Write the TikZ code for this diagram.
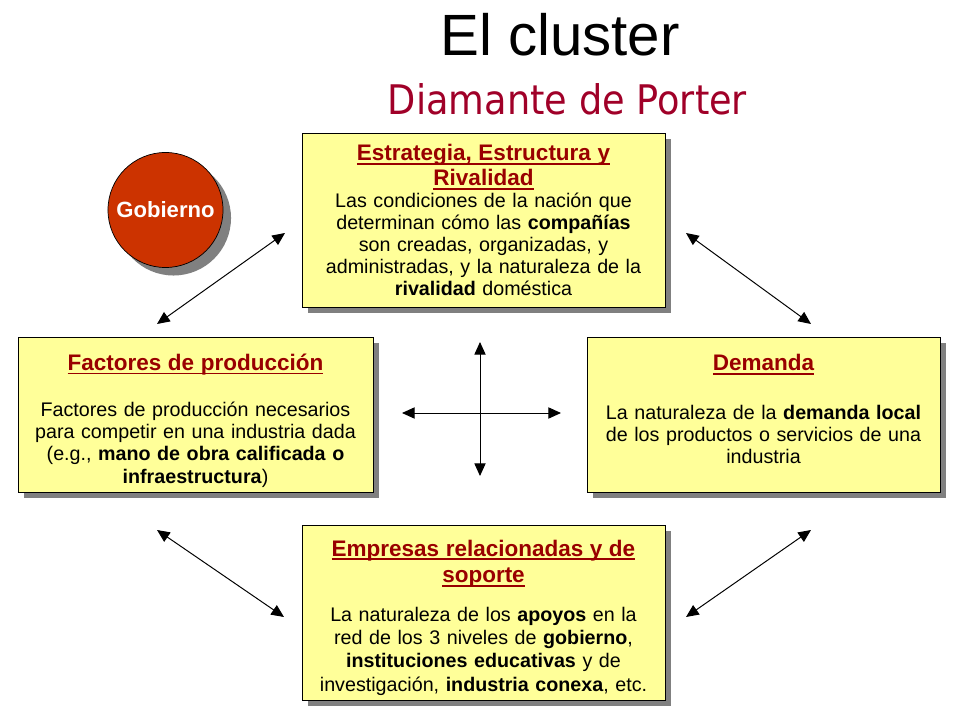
\documentclass[tikz,border=0pt]{standalone}
\usepackage{fontspec}
\usepackage{graphicx}
\setmainfont{Liberation Sans}
\newfontfamily\titlefont{DejaVu Sans}
\usetikzlibrary{arrows.meta,shadows}
\definecolor{boxyellow}{RGB}{255,255,153}
\definecolor{headred}{RGB}{153,0,0}
\definecolor{titlered}{RGB}{160,0,40}
\definecolor{govred}{RGB}{204,51,0}
\definecolor{shadowgray}{RGB}{128,128,128}
\newcommand{\hdr}[1]{\leavevmode{\color{headred}\bfseries\fontsize{16}{19}\selectfont\sbox0{#1}\hbox{\rlap{\rule[-2.9pt]{\wd0}{1.4pt}}\usebox0}}}

\tikzset{
porterbox/.style={draw=black, line width=0.6pt, fill=boxyellow, align=center,
  text width=8.4cm, inner sep=2pt, font=\fontsize{14}{15.6}\selectfont,
  drop shadow={shadow xshift=0.15cm, shadow yshift=-0.15cm, fill=shadowgray, opacity=1}},
biarrow/.style={{Triangle[length=9pt,width=8pt]}-{Triangle[length=9pt,width=8pt]}, line width=0.7pt}
}

\begin{document}
\begin{tikzpicture}[x=0.025cm, y=-0.025cm]
\useasboundingbox (0,0) rectangle (960,720);

% ================= TITLE =================
\node[anchor=base, font=\fontsize{41.4}{48}\selectfont] (title) at (560,56) {El cluster};
\node[anchor=base, text=titlered, font=\titlefont\fontsize{29}{34}\selectfont] (subtitle) at (567.5,115)
{\scalebox{0.9}[1]{Diamante de Porter}};

% ================= GOBIERNO =================
\node[circle, draw=black, line width=0.5pt, fill=govred, minimum size=2.875cm, inner sep=0pt,
text=white, font=\bfseries\fontsize{15.7}{18}\selectfont,
drop shadow={shadow xshift=0.2cm, shadow yshift=-0.2cm, fill=shadowgray, opacity=1}] (gob) at (165.5,210) {Gobierno};

% ================= BOXES =================
\node[porterbox, minimum width=9.075cm, minimum height=4.35cm] (estr) at (483.5,220)
{\hdr{Estrategia, Estructura y}\\[2pt]\hdr{Rivalidad}\\
Las condiciones de la nación que\\
determinan cómo las \textbf{compañías}\\
son creadas, organizadas, y\\
administradas, y la naturaleza de la\\
\textbf{rivalidad} doméstica};

\node[porterbox, minimum width=8.875cm, minimum height=3.875cm] (fac) at (195.5,414.5)
{\rule{0pt}{20.5pt}\hdr{Factores de producción}\\[17pt]
Factores de producción necesarios\\[0.3pt]
para competir en una industria dada\\[0.3pt]
(e.g., \textbf{mano de obra calificada o}\\[0.3pt]
\textbf{infraestructura})};

\node[porterbox, minimum width=8.825cm, minimum height=3.875cm] (dem) at (763.5,414.5)
{\hdr{Demanda}\\[19pt]
La naturaleza de la \textbf{demanda local}\\
de los productos o servicios de una\\
industria\rule[-8pt]{0pt}{8pt}};

\node[porterbox, minimum width=9.075cm, minimum height=4.375cm] (emp) at (483.5,612.5)
{\rule{0pt}{19pt}\hdr{Empresas relacionadas y de}\\[3pt]\hdr{soporte}\\[12pt]
La naturaleza de los \textbf{apoyos} en la\\[1pt]
red de los 3 niveles de \textbf{gobierno},\\[1pt]
\textbf{instituciones educativas} y de\\[1pt]
investigación, \textbf{industria conexa}, etc.};

% --- connector ends ---
\coordinate (facNE) at (157,324);
\coordinate (estrW) at (285,233);
\coordinate (estrE) at (686,233);
\coordinate (demNW) at (811,324);
\coordinate (facSE) at (157,530);
\coordinate (empW) at (284,617);
\coordinate (empE) at (686,617);
\coordinate (demSW) at (811,530);

% --- diagonal arrows ---
\draw[biarrow] (facNE) -- (estrW);
\draw[biarrow] (estrE) -- (demNW);
\draw[biarrow] (facSE) -- (empW);
\draw[biarrow] (empE) -- (demSW);

% --- center cross ---
\coordinate (crossN) at (480,342);
\coordinate (crossS) at (480,476);
\coordinate (crossW) at (402,413);
\coordinate (crossE) at (561,413);
\draw[biarrow] (crossN) -- (crossS);
\draw[biarrow] (crossW) -- (crossE);

\end{tikzpicture}
\end{document}
